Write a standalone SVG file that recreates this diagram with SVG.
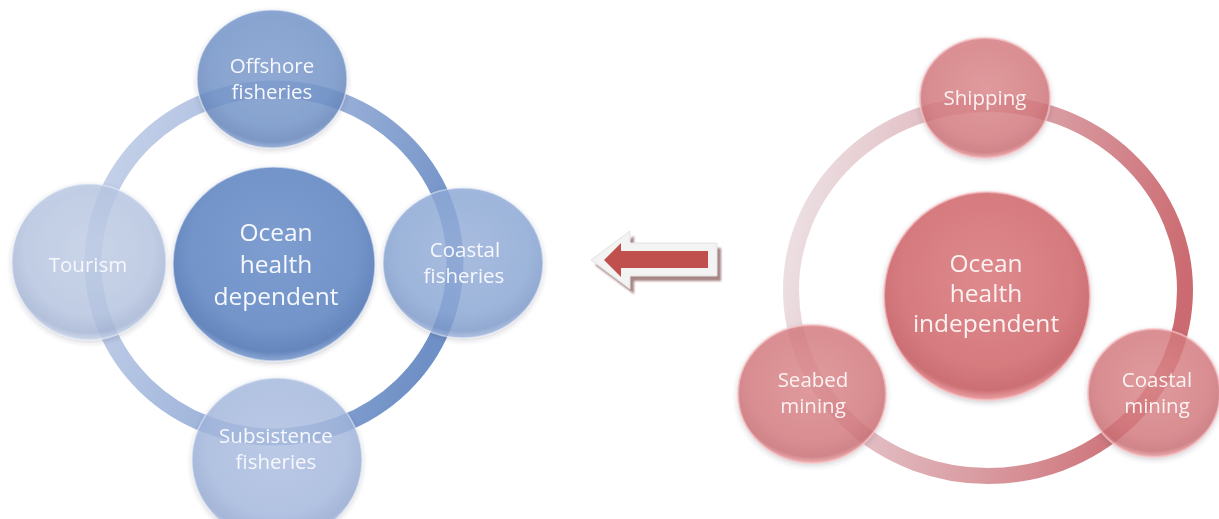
<svg xmlns="http://www.w3.org/2000/svg" width="1219" height="519" viewBox="0 0 1219 519">
<defs>
<style>
.lbl{font-family:"Open Sans","Liberation Sans",sans-serif;fill:#f6f8fd;text-anchor:middle;font-size:20.5px}
.big{font-size:24.5px}
.red .lbl{fill:#fcf2f2}
.node{filter:url(#sh)}
.bc{stroke:#e6edf8;stroke-opacity:.55;stroke-width:1.5}
.rc{stroke:#f6c2c4;stroke-opacity:.7;stroke-width:2}
.sat{fill-opacity:.8}
</style>
<filter id="sh" x="-20%" y="-20%" width="140%" height="140%">
<feGaussianBlur in="SourceAlpha" stdDeviation="2.5"/>
<feOffset dy="2" result="b"/>
<feFlood flood-color="#3a3a50" flood-opacity="0.25"/>
<feComposite in2="b" operator="in"/>
<feMerge><feMergeNode/><feMergeNode in="SourceGraphic"/></feMerge>
</filter>
<filter id="ash" x="-10%" y="-20%" width="130%" height="150%">
<feGaussianBlur stdDeviation="0.8"/>
</filter>
<radialGradient id="gB1" cx="50%" cy="42%" r="58%">
<stop offset="0" stop-color="#7e9dd0"/><stop offset="0.72" stop-color="#7294c9"/><stop offset="0.92" stop-color="#6586bd"/><stop offset="1" stop-color="#8ca7d4"/>
</radialGradient>
<radialGradient id="gB2" cx="50%" cy="42%" r="58%">
<stop offset="0" stop-color="#9ab3dd"/><stop offset="0.72" stop-color="#8eaad8"/><stop offset="0.92" stop-color="#809ccc"/><stop offset="1" stop-color="#a5bbe0"/>
</radialGradient>
<radialGradient id="gB3" cx="50%" cy="42%" r="58%">
<stop offset="0" stop-color="#c3d0e9"/><stop offset="0.72" stop-color="#b8c7e3"/><stop offset="0.92" stop-color="#a8b8d8"/><stop offset="1" stop-color="#cbd6ec"/>
</radialGradient>
<radialGradient id="gB4" cx="50%" cy="42%" r="58%">
<stop offset="0" stop-color="#b1c3e5"/><stop offset="0.72" stop-color="#a6bae0"/><stop offset="0.92" stop-color="#96abd4"/><stop offset="1" stop-color="#bccbe8"/>
</radialGradient>
<radialGradient id="gR" cx="50%" cy="42%" r="58%">
<stop offset="0" stop-color="#de8a8d"/><stop offset="0.72" stop-color="#d67b7f"/><stop offset="0.92" stop-color="#cb6f74"/><stop offset="1" stop-color="#eea3a6"/>
</radialGradient>
<linearGradient id="ringB" x1="0" y1="0.2" x2="1" y2="0.5">
<stop offset="0" stop-color="#c8d3ea"/><stop offset="0.45" stop-color="#a4b8dd"/><stop offset="1" stop-color="#6f90c6"/>
</linearGradient>
<linearGradient id="ringR" x1="0" y1="0.3" x2="1" y2="0.5">
<stop offset="0" stop-color="#ece0e3"/><stop offset="0.4" stop-color="#dfb2b8"/><stop offset="1" stop-color="#cb6a70"/>
</linearGradient>
</defs>
<rect width="1219" height="519" fill="#ffffff"/>

<g id="connectors">
<ellipse cx="274" cy="263" rx="181" ry="174" fill="none" stroke="url(#ringB)" stroke-width="17"/>
<ellipse cx="988" cy="290" rx="197" ry="186" fill="none" stroke="url(#ringR)" stroke-width="16"/>
<g id="arrow">
<polygon points="595,265 634,236 634,248 721,248 721,281 634,281 634,294" fill="#a88585" filter="url(#ash)"/>
<polygon points="591,260 630,231 630,243 717,243 717,276 630,276 630,289" fill="#f3f3f3" stroke="#e2e2e2" stroke-width="1"/>
<polygon points="604,260 621,243 621,251 708,251 708,268 621,268 621,277" fill="#c0504d"/>
</g>
</g>

<g id="left" class="blue">
<g id="node-offshore" class="node">
<ellipse cx="272" cy="79" rx="75" ry="69" fill="url(#gB1)" class="bc sat"/>
<text class="lbl" x="272" y="73">Offshore</text>
<text class="lbl" x="272" y="99">fisheries</text>
</g>
<g id="node-tourism" class="node">
<ellipse cx="89" cy="262" rx="77" ry="78" fill="url(#gB3)" class="bc sat"/>
<text class="lbl" x="88" y="272">Tourism</text>
</g>
<g id="node-coastal-fisheries" class="node">
<ellipse cx="463" cy="263" rx="80" ry="75" fill="url(#gB2)" class="bc sat"/>
<text class="lbl" x="465" y="257">Coastal</text>
<text class="lbl" x="464" y="283">fisheries</text>
</g>
<g id="node-subsistence" class="node">
<ellipse cx="277" cy="460" rx="85" ry="82" fill="url(#gB4)" class="bc sat"/>
<text class="lbl" x="276" y="443">Subsistence</text>
<text class="lbl" x="276" y="469">fisheries</text>
</g>
<g id="node-dependent" class="node">
<ellipse cx="274" cy="264" rx="101" ry="97" fill="url(#gB1)" class="bc"/>
<text class="lbl big" x="276" y="241">Ocean</text>
<text class="lbl big" x="276" y="273">health</text>
<text class="lbl big" x="276" y="305">dependent</text>
</g>
</g>

<g id="right" class="red">
<g id="node-shipping" class="node">
<ellipse cx="985" cy="98" rx="65" ry="60" fill="url(#gR)" class="rc sat"/>
<text class="lbl" x="985" y="105">Shipping</text>
</g>
<g id="node-seabed" class="node">
<ellipse cx="812" cy="394" rx="74" ry="69" fill="url(#gR)" class="rc sat"/>
<text class="lbl" x="813" y="387">Seabed</text>
<text class="lbl" x="813" y="413">mining</text>
</g>
<g id="node-coastal-mining" class="node">
<ellipse cx="1154" cy="393" rx="66" ry="64" fill="url(#gR)" class="rc sat"/>
<text class="lbl" x="1157" y="387">Coastal</text>
<text class="lbl" x="1157" y="413">mining</text>
</g>
<g id="node-independent" class="node">
<ellipse cx="987" cy="296" rx="103" ry="104" fill="url(#gR)" class="rc"/>
<text class="lbl big" x="986" y="272">Ocean</text>
<text class="lbl big" x="986" y="302">health</text>
<text class="lbl big" x="986" y="332">independent</text>
</g>
</g>
</svg>
